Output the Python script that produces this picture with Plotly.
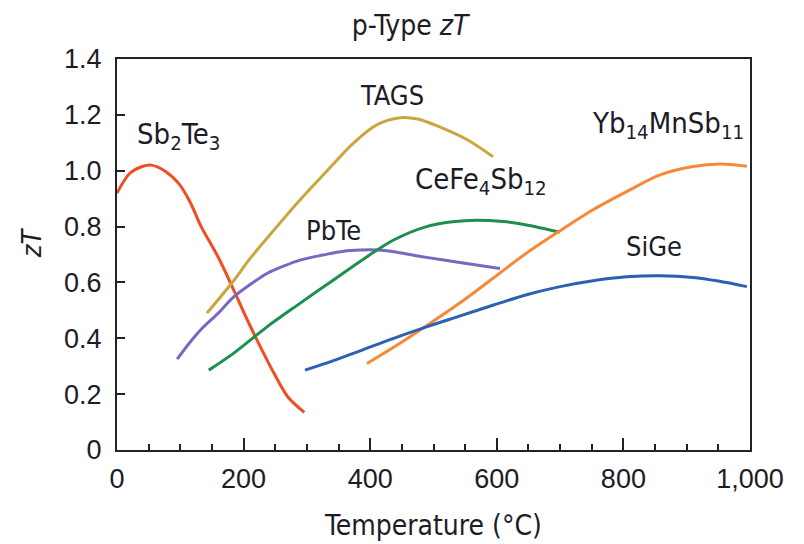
import plotly.graph_objects as go

# ---- data (temperature in °C, zT) ----
sb2te3_x = [0, 20, 40, 54, 75, 98, 115, 133, 160, 185, 205, 222, 248, 270, 296]
sb2te3_y = [0.92, 0.99, 1.015, 1.02, 1.0, 0.953, 0.89, 0.80, 0.69, 0.57, 0.47, 0.39, 0.275, 0.19, 0.135]

tags_x = [142, 184, 210, 247, 289, 332, 374, 411, 447, 475, 501, 554, 594]
tags_y = [0.49, 0.605, 0.685, 0.785, 0.895, 1.0, 1.1, 1.165, 1.19, 1.185, 1.165, 1.11, 1.05]

pbte_x = [95, 115, 132, 160, 184, 212, 237, 265, 289, 325, 358, 385, 412, 437, 475, 516, 560, 605]
pbte_y = [0.325, 0.385, 0.43, 0.49, 0.547, 0.595, 0.632, 0.66, 0.68, 0.698, 0.712, 0.716, 0.716, 0.71, 0.695, 0.68, 0.665, 0.65]

cefe_x = [145, 184, 237, 289, 342, 395, 437, 489, 530, 568, 610, 647, 700]
cefe_y = [0.286, 0.346, 0.441, 0.525, 0.609, 0.692, 0.752, 0.80, 0.817, 0.823, 0.818, 0.806, 0.78]

yb_x = [395, 442, 489, 542, 594, 647, 700, 752, 805, 858, 910, 953, 995]
yb_y = [0.31, 0.375, 0.445, 0.527, 0.615, 0.705, 0.785, 0.86, 0.925, 0.985, 1.015, 1.024, 1.016]

sige_x = [297, 342, 384, 437, 489, 542, 595, 647, 700, 752, 805, 858, 910, 950, 995]
sige_y = [0.286, 0.32, 0.355, 0.40, 0.441, 0.48, 0.519, 0.556, 0.585, 0.606, 0.62, 0.624, 0.618, 0.605, 0.585]

x_tickvals = [0, 200, 400, 600, 800, 1000]
x_ticktext = ["0", "200", "400", "600", "800", "1,000"]
y_tickvals = [0, 0.2, 0.4, 0.6, 0.8, 1.0, 1.2, 1.4]
y_ticktext = ["0", "0.2", "0.4", "0.6", "0.8", "1.0", "1.2", "1.4"]

series = [
    ("Sb2Te3", sb2te3_x, sb2te3_y, "#f04d23"),
    ("TAGS", tags_x, tags_y, "#c9a73e"),
    ("PbTe", pbte_x, pbte_y, "#7b66c2"),
    ("CeFe4Sb12", cefe_x, cefe_y, "#1f8f4e"),
    ("Yb14MnSb11", yb_x, yb_y, "#f7883a"),
    ("SiGe", sige_x, sige_y, "#2d5fb3"),
]

labels = [
    ("Sb<sub>2</sub>Te<sub>3</sub>", 97, 1.125),
    ("TAGS", 435, 1.268),
    ("PbTe", 342, 0.786),
    ("CeFe<sub>4</sub>Sb<sub>12</sub>", 575, 0.962),
    ("Yb<sub>14</sub>MnSb<sub>11</sub>", 871, 1.165),
    ("SiGe", 848, 0.729),
]

TXT = "#1c1c28"
FONT = "Liberation Sans"
NARROW = "DejaVu Sans Condensed, Liberation Sans Narrow, Liberation Sans"

fig = go.Figure()
for name, xs, ys, col in series:
    fig.add_trace(go.Scatter(x=xs, y=ys, mode="lines", name=name,
                             line=dict(color=col, width=3, shape="spline", smoothing=0.9),
                             hoverinfo="x+y+name"))

for text, x, y in labels:
    size = 29 if "<sub>" in text else 27
    fig.add_annotation(x=x, y=y, text=text, showarrow=False, xanchor="center", yanchor="middle",
                       font=dict(family=NARROW, size=size, color=TXT))

# y-axis title placed as a rotated annotation left of the tick labels
fig.add_annotation(xref="paper", yref="paper", x=-0.135, y=0.53, text="<i>zT</i>",
                   textangle=-90, showarrow=False, xanchor="center", yanchor="middle",
                   font=dict(family=NARROW, size=27, color=TXT))

# the page body adds an 8px offset, so margins are set to compensate
fig.update_layout(
    width=804, height=544,
    margin=dict(l=109, r=62, t=51, b=102, autoexpand=False),
    paper_bgcolor="white", plot_bgcolor="white",
    showlegend=False,
    title=dict(text="p-Type <i>zT</i>", x=402 / 804, xanchor="center", y=1 - 17 / 544, yanchor="middle",
               font=dict(family=NARROW, size=28, color=TXT)),
    font=dict(family=FONT, size=26, color=TXT),
)

fig.update_xaxes(range=[0, 1000], tickvals=x_tickvals, ticktext=x_ticktext, automargin=False,
                 ticks="inside", ticklen=12, tickwidth=2, tickcolor="#222",
                 minor=dict(dtick=50, tick0=0, ticks="inside", ticklen=6, tickwidth=2, tickcolor="#222"),
                 showline=True, linecolor="#222", linewidth=2, mirror=True,
                 showgrid=False, zeroline=False, ticklabelstandoff=4,
                 tickfont=dict(family=FONT, size=27, color=TXT),
                 title=dict(text="Temperature (°C)", standoff=22,
                            font=dict(family=NARROW, size=28, color=TXT)))

fig.update_yaxes(range=[0, 1.4], tickvals=y_tickvals, ticktext=y_ticktext, automargin=False,
                 ticks="inside", ticklen=8, tickwidth=2, tickcolor="#222",
                 showline=True, linecolor="#222", linewidth=2, mirror=True,
                 showgrid=False, zeroline=False, ticklabelstandoff=8,
                 tickfont=dict(family=FONT, size=27, color=TXT))

fig.write_html("out.html")
